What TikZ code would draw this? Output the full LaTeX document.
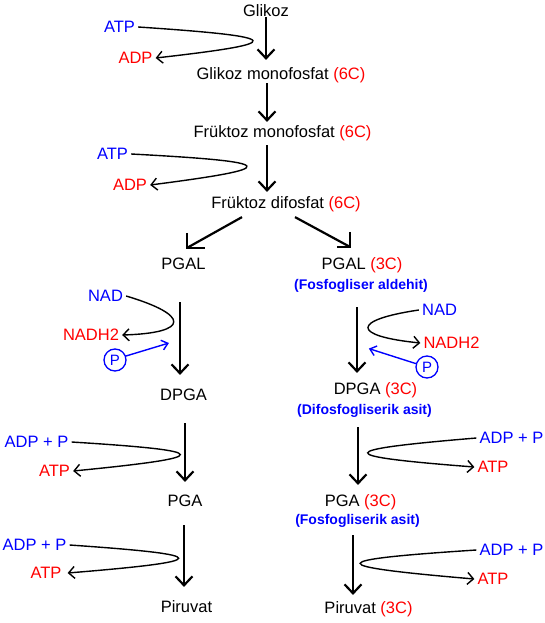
\documentclass[tikz,border=0pt]{standalone}
\usepackage{fontspec}
\setmainfont{Liberation Sans}
\usetikzlibrary{arrows.meta,calc}
\definecolor{myblue}{RGB}{0,0,255}
\definecolor{myred}{RGB}{255,0,0}
\begin{document}
\begin{tikzpicture}[x=1pt,y=-1pt,
  lbl/.style={inner sep=0pt, font=\fontsize{16.5}{18}\selectfont, text height=11.8pt, text depth=0pt},
  sub/.style={inner sep=0pt, font=\fontsize{14}{16}\selectfont\bfseries, text=myblue, text height=10pt, text depth=0pt},
  side/.style={lbl, inner xsep=3pt},
  bl/.style={side, text=myblue},
  rd/.style={side, text=myred},
  mainarr/.style={line width=2.2pt, -{Straight Barb[length=9pt,width=17pt]}},
  shaft/.style={line width=2.2pt},
  headline/.style={line width=2.2pt, line join=miter},
  looparr/.style={line width=1.4pt, -{Straight Barb[length=6pt,width=12pt]}},
  parr/.style={line width=1.4pt, draw=myblue, -{Straight Barb[length=6pt,width=10pt]}},
  pcirc/.style={circle, draw=myblue, line width=1.3pt, text=myblue, minimum size=22pt, inner sep=0pt, font=\fontsize{15}{16}\selectfont}
]
\useasboundingbox (0,0) rectangle (545,623);
\fill[white] (0,0) rectangle (545,623);

% main chain
\node[lbl] (glc) at (266,11) {Glikoz};
\node[lbl] (gmp) at (281,74) {Glikoz monofosfat \textcolor{myred}{(6C)}};
\node[lbl] (fmp) at (282.5,132) {Früktoz monofosfat \textcolor{myred}{(6C)}};
\node[lbl] (fdp) at (286,203) {Früktoz difosfat \textcolor{myred}{(6C)}};
\node[lbl] (pgalL) at (183.5,264) {PGAL};
\node[lbl] (pgalR) at (362,264) {PGAL \textcolor{myred}{(3C)}};
\node[sub] (fald) at (361,284) {(Fosfogliser aldehit)};
\node[lbl] (dpgaL) at (183.5,395) {DPGA};
\node[lbl] (dpgaR) at (375.5,389) {DPGA \textcolor{myred}{(3C)}};
\node[sub] (difo) at (364.5,409) {(Difosfogliserik asit)};
\node[lbl] (pgaL) at (185,501) {PGA};
\node[lbl] (pgaR) at (360.5,501) {PGA \textcolor{myred}{(3C)}};
\node[sub] (fosa) at (357.5,519) {(Fosfogliserik asit)};
\node[lbl] (piruL) at (186.5,607) {Piruvat};
\node[lbl] (piruR) at (368.5,608) {Piruvat \textcolor{myred}{(3C)}};

% side labels
\node[bl] (atp1) at (119.5,27) {ATP};
\node[rd] (adp1) at (135.5,58) {ADP};
\node[bl] (atp2) at (112.5,154) {ATP};
\node[rd] (adp2) at (130,185) {ADP};
\node[bl] (nadL) at (105.5,296) {NAD};
\node[rd] (nadhL) at (91,335) {NADH2};
\node[pcirc] (pL) at (115,360) {P};
\node[bl] (nadR) at (439.5,310) {NAD};
\node[rd] (nadhR) at (451.5,343) {NADH2};
\node[pcirc] (pR) at (427,367) {P};
\node[bl] (adpp1) at (36.5,442) {ADP + P};
\node[rd] (atp3) at (54.5,471) {ATP};
\node[bl] (adpp2) at (34.5,545) {ADP + P};
\node[rd, inner xsep=6pt] (atp4) at (46,573) {ATP};
\node[bl] (adpp3) at (511.5,438) {ADP + P};
\node[rd] (atp5) at (493,467) {ATP};
\node[bl] (adpp4) at (511.5,550) {ADP + P};
\node[rd] (atp6) at (493,579) {ATP};

% main arrows
\draw[mainarr] (glc.south) -- ($(glc.south |- gmp.north)+(0,-8)$);
\draw[mainarr] ($(glc.south |- gmp.south)+(1,3)$) -- ($(glc.south |- fmp.north)+(1,-4)$);
\draw[mainarr] ($(glc.south |- fmp.south)+(1,7)$) -- ($(glc.south |- fdp.north)+(1,-5)$);

% diagonal split arrows with corner-shaped heads
\coordinate (tipL) at ($(pgalL.north)+(3.5,-10)$);
\coordinate (tipR) at ($(pgalR.north)+(-12,-11)$);
\draw[shaft] ($(fdp.south)+(-44,8)$) -- (tipL);
\draw[headline] ($(tipL)+(0,-15)$) -- (tipL) -- ($(tipL)+(18,0)$);
\draw[shaft] ($(fdp.south)+(9,8)$) -- (tipR);
\draw[headline] ($(tipR)+(0,-15)$) -- (tipR) -- ($(tipR)+(-13,0)$);

\draw[mainarr] ($(pgalL.south)+(-3.5,32)$) -- ($(dpgaL.north)+(-3.5,-14)$);
\draw[mainarr] ($(fald.south)+(-4,18)$) -- ($(dpgaR.north)+(-18.5,-10)$);
\draw[mainarr] ($(dpgaL.south)+(1.5,22)$) -- ($(pgaL.north)+(0,-13)$);
\draw[mainarr] ($(difo.south)+(-6.5,13)$) -- ($(pgaR.north)+(-2.5,-10)$);
\draw[mainarr] ($(pgaL.south)+(-1,18)$) -- ($(piruL.north)+(-2.5,-14)$);
\draw[mainarr] ($(fosa.south)+(-4.5,11)$) -- ($(piruR.north)+(-15.5,-7)$);

% side loops
\draw[looparr] (atp1.east) .. controls (288,37) and (288,43) .. (adp1.east);
\draw[looparr] (atp2.east) .. controls (282,162) and (282,168) .. (adp2.east);
\draw[looparr] (nadL.east) .. controls (190,315) and (190,333) .. (nadhL.east);
\draw[looparr] (nadR.west) .. controls (351,320) and (351,336) .. (nadhR.west);
\draw[looparr] (adpp1.east) .. controls (216,451) and (216,457) .. (atp3.east);
\draw[looparr] (adpp2.east) .. controls (215,555) and (215,561) .. (atp4.east);
\draw[looparr] (adpp3.west) .. controls (332,450) and (332,456) .. (atp5.west);
\draw[looparr] (adpp4.west) .. controls (322,560) and (322,566) .. (atp6.west);

% phosphate arrows
\draw[parr] (pL.20) -- ($(pL.20)+(43,-13)$);
\draw[parr] (pR.163) -- ($(pR.163)+(-47,-15)$);
\end{tikzpicture}
\end{document}
